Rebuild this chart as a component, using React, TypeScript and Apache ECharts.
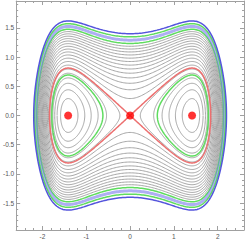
import React, { useEffect, useRef } from "react";
import * as echarts from "echarts";

// Potential V(x) as a polynomial in u = x^2 (coefficients of u^1..u^5), read to fit the contours
const V_COEFFS = [-0.24, 0.019382, -0.010959, 0.013298, -0.0016444];
// Energy levels of the gray contours H = y^2/2 + V(x)
const GRAY_LEVELS = [
  -0.288, -0.233, -0.178, -0.123, -0.068, -0.013, 0.042, 0.097, 0.152, 0.207,
  0.262, 0.317, 0.372, 0.427, 0.482, 0.537, 0.592, 0.647, 0.702,
];
// Highlighted orbits
const HIGHLIGHT_LEVELS = [-0.09, 0, 0.76, 0.832, 0.906, 0.98];
const HIGHLIGHT_COLORS = [
  "#5fdc5f",
  "#ec6f6f",
  "#5fdc5f",
  "rgba(120,120,235,0.6)",
  "#5fdc5f",
  "#5454dc",
];
const HIGHLIGHT_WIDTHS = [1.5, 1.5, 1.5, 3, 1.5, 1.5];
// Fixed points
const FIXED_X = [-1.4142, 0, 1.4142];
const FIXED_Y = [0, 0, 0];
// Ticks
const X_TICKS = [-2, -1, 0, 1, 2];
const Y_TICKS = [-1.5, -1.0, -0.5, 0.0, 0.5, 1.0, 1.5];

const X_MIN = -2.6, X_MAX = 2.6, Y_MIN = -1.96, Y_MAX = 1.96;

function V(x: number): number {
  const u = x * x;
  let s = 0;
  let p = u;
  for (let i = 0; i < V_COEFFS.length; i++) {
    s += V_COEFFS[i] * p;
    p *= u;
  }
  return s;
}

function root(h: number, lo: number, hi: number): number {
  const flo = V(lo) - h;
  for (let i = 0; i < 80; i++) {
    const m = (lo + hi) / 2;
    const fm = V(m) - h;
    if ((fm > 0) === (flo > 0)) lo = m;
    else hi = m;
  }
  return (lo + hi) / 2;
}

const N = 400;
const XMIN_WELL = Math.SQRT2;

function curves(h: number): number[][][] {
  const out: number[][][] = [];
  const yOf = (x: number, s: number) => s * Math.sqrt(Math.max(0, 2 * (h - V(x))));
  if (h > 0) {
    const xm = root(h, XMIN_WELL, 2.4);
    const pts: number[][] = [];
    for (let i = 0; i <= N; i++) {
      const t = (2 * Math.PI * i) / N;
      const x = xm * Math.cos(t);
      pts.push([x, yOf(x, Math.sin(t) >= 0 ? 1 : -1)]);
    }
    out.push(pts);
  } else {
    const x1 = h === 0 ? 0 : root(h, 0, XMIN_WELL);
    const x2 = root(h, XMIN_WELL, 2.4);
    const c = (x1 + x2) / 2, w = (x2 - x1) / 2;
    for (const side of [1, -1]) {
      const pts: number[][] = [];
      for (let i = 0; i <= N; i++) {
        const t = (2 * Math.PI * i) / N;
        const x = c + w * Math.cos(t);
        pts.push([side * x, yOf(x, Math.sin(t) >= 0 ? 1 : -1)]);
      }
      out.push(pts);
    }
  }
  return out;
}

function minorTicks(min: number, max: number, step: number, major: number): number[] {
  const r: number[] = [];
  const n = Math.round((max - min) / step);
  for (let i = 0; i <= n; i++) {
    const v = Math.round((min + i * step) * 1000) / 1000;
    if (Math.abs(v / major - Math.round(v / major)) > 1e-6) r.push(v);
  }
  return r;
}

const FRAME = "#a0a0a0";
const LABEL = "#555555";
const FONT = "Liberation Sans";

export default function App() {
  const ref = useRef<HTMLDivElement>(null);
  useEffect(() => {
    if (!ref.current) return;
    const chart = echarts.init(ref.current, undefined, { renderer: "svg" });
    const series: any[] = [];
    GRAY_LEVELS.forEach((h) => {
      curves(h).forEach((pts) =>
        series.push({
          type: "line",
          data: pts,
          showSymbol: false,
          symbol: "none",
          silent: true,
          lineStyle: { color: "#9c9c9c", width: 0.9 },
          z: 2,
        })
      );
    });
    HIGHLIGHT_LEVELS.forEach((h, k) => {
      curves(h).forEach((pts) =>
        series.push({
          type: "line",
          data: pts,
          showSymbol: false,
          symbol: "none",
          silent: true,
          lineStyle: { color: HIGHLIGHT_COLORS[k], width: HIGHLIGHT_WIDTHS[k] },
          z: 3,
        })
      );
    });
    series.push({
      type: "scatter",
      data: FIXED_X.map((x, i) => [x, FIXED_Y[i]]),
      symbol: "circle",
      symbolSize: 8,
      itemStyle: { color: "#ff0000" },
      silent: true,
      z: 5,
    });

    const xMinor = minorTicks(-2.6, 2.6, 0.2, 1);
    const yMinor = minorTicks(-1.9, 1.9, 0.1, 0.5);
    const baseAxis = (pos: string, labels: boolean, ticks: number[], len: number, line: boolean, isX: boolean) => ({
      type: "value",
      position: pos,
      min: isX ? X_MIN : Y_MIN,
      max: isX ? X_MAX : Y_MAX,
      axisLine: { show: line, onZero: false, lineStyle: { color: FRAME, width: 1 } },
      axisTick: { show: true, inside: true, length: len, customValues: ticks, lineStyle: { color: FRAME, width: 1 } },
      axisLabel: labels
        ? {
            show: true,
            customValues: ticks,
            fontSize: 6.5,
            fontFamily: FONT,
            color: LABEL,
            margin: isX ? 3 : 2,
            formatter: (v: number) => (isX ? String(Math.round(v)) : v.toFixed(1)),
          }
        : { show: false },
      splitLine: { show: false },
      minorTick: { show: false },
    });

    chart.setOption({
      animation: false,
      grid: { left: 14, right: 1, top: 1, bottom: 10, containLabel: false },
      xAxis: [
        baseAxis("bottom", true, X_TICKS, 4, true, true),
        baseAxis("bottom", false, xMinor, 2, false, true),
        baseAxis("top", false, X_TICKS, 4, true, true),
        baseAxis("top", false, xMinor, 2, false, true),
      ],
      yAxis: [
        baseAxis("left", true, Y_TICKS, 4, true, false),
        baseAxis("left", false, yMinor, 2, false, false),
        baseAxis("right", false, Y_TICKS, 4, true, false),
        baseAxis("right", false, yMinor, 2, false, false),
      ],
      series,
    });
    return () => chart.dispose();
  }, []);
  return (
    <div
      ref={ref}
      style={{ position: "absolute", left: 0, top: 0, width: 245, height: 240, background: "#fff" }}
    />
  );
}
